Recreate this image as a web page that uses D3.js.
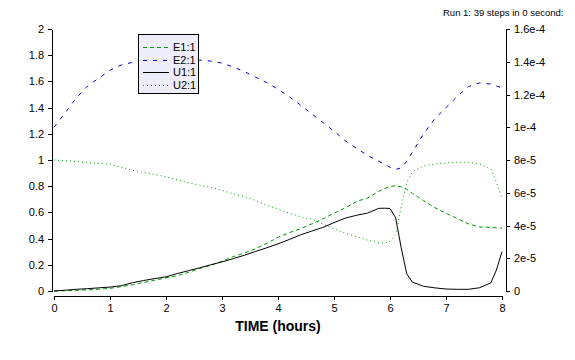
<!DOCTYPE html>
<html><head><meta charset="utf-8">
<script src="https://cdn.jsdelivr.net/npm/d3@7"></script>
<style>
body{margin:0;background:#fff;}
svg{display:block;font-family:"Liberation Sans",Arial,sans-serif;}
</style></head>
<body><svg id="c" width="575" height="360"></svg>
<script>
const title = "Run 1: 39 steps in 0 second:";
const xTitle = "TIME (hours)";
const seriesNames = ["E1:1","E2:1","U1:1","U2:1"];
const xTicks = [0,1,2,3,4,5,6,7,8];
const leftTicks = [0,0.2,0.4,0.6,0.8,1,1.2,1.4,1.6,1.8,2];
const leftTickLabels = ["0","0.2","0.4","0.6","0.8","1","1.2","1.4","1.6","1.8","2"];
const rightTicks = [0,2e-5,4e-5,6e-5,8e-5,1e-4,1.2e-4,1.4e-4,1.6e-4];
const rightTickLabels = ["0","2e-5","4e-5","6e-5","8e-5","1e-4","1.2e-4","1.4e-4","1.6e-4"];

const time = [0,0.2,0.4,0.6,0.8,1.0,1.2,1.4,1.6,1.8,2.0,2.2,2.4,2.6,2.8,3.0,3.2,3.4,3.6,3.8,4.0,4.2,4.4,4.6,4.8,5.0,5.2,5.4,5.6,5.8,5.9,6.0,6.1,6.2,6.3,6.4,6.6,6.8,7.0,7.2,7.4,7.6,7.8,7.9,8.0];
const E1 = [0,0.002,0.005,0.009,0.013,0.02,0.033,0.047,0.065,0.082,0.1,0.116,0.142,0.172,0.196,0.228,0.262,0.29,0.322,0.364,0.41,0.445,0.475,0.512,0.55,0.594,0.634,0.683,0.71,0.76,0.782,0.797,0.804,0.795,0.775,0.745,0.69,0.636,0.594,0.553,0.512,0.489,0.486,0.482,0.479];
const E2 = [1.25,1.36,1.475,1.565,1.625,1.685,1.725,1.745,1.755,1.76,1.762,1.763,1.764,1.763,1.755,1.74,1.71,1.675,1.632,1.59,1.54,1.483,1.42,1.353,1.287,1.22,1.147,1.09,1.035,0.99,0.97,0.945,0.928,0.94,0.99,1.06,1.2,1.315,1.4,1.485,1.56,1.588,1.58,1.565,1.55];
const U1 = [0,0.006,0.013,0.018,0.024,0.03,0.04,0.063,0.08,0.095,0.108,0.133,0.155,0.177,0.2,0.222,0.247,0.273,0.302,0.33,0.36,0.393,0.428,0.457,0.485,0.522,0.556,0.578,0.595,0.631,0.632,0.63,0.56,0.33,0.13,0.068,0.036,0.024,0.015,0.013,0.013,0.025,0.062,0.16,0.3];
const U2 = [1.0,0.995,0.988,0.981,0.975,0.968,0.942,0.922,0.905,0.89,0.872,0.848,0.826,0.808,0.79,0.768,0.742,0.72,0.69,0.655,0.625,0.595,0.567,0.548,0.512,0.475,0.44,0.415,0.388,0.368,0.365,0.38,0.43,0.64,0.83,0.91,0.955,0.968,0.978,0.983,0.983,0.97,0.93,0.83,0.71];

const svg = d3.select("#c");
const x = d3.scaleLinear().domain([0,8]).range([54,502]);
const yL = d3.scaleLinear().domain([0,2]).range([291,29]);
const yR = d3.scaleLinear().domain([0,1.6e-4]).range([291,29]);

const styles = [
  {data:E1, color:"#009900", dash:"4,3"},
  {data:E2, color:"#0000cc", dash:"4,6"},
  {data:U1, color:"#000000", dash:null},
  {data:U2, color:"#00a000", dash:"1,3"}
];

// axes
const axL = svg.append("g").attr("transform","translate(52,0)")
  .call(d3.axisLeft(yL).tickValues(leftTicks).tickFormat((d,i)=>leftTickLabels[i]).tickSize(4).tickSizeOuter(0).tickPadding(4));
const axR = svg.append("g").attr("transform","translate(506,0)")
  .call(d3.axisRight(yR).tickValues(rightTicks).tickFormat((d,i)=>rightTickLabels[i]).tickSize(4).tickSizeOuter(0).tickPadding(4));
const axX = svg.append("g").attr("transform","translate(0,296)")
  .call(d3.axisBottom(x).tickValues(xTicks).tickFormat(d3.format("d")).tickSize(4).tickSizeOuter(0).tickPadding(4));
[axL,axR,axX].forEach(a=>{
  a.selectAll("path,line").attr("stroke","#000").attr("shape-rendering","crispEdges");
  a.selectAll("text").attr("fill","#000").style("font-size","11px").style("font-family","'Liberation Sans',Arial,sans-serif");
});

// lines
const line = d3.line().x((d,i)=>x(time[i])).y(d=>yL(d));
styles.forEach(s=>{
  const p = svg.append("path").datum(s.data).attr("d",line)
    .attr("fill","none").attr("stroke",s.color).attr("stroke-width",1);
  if(s.dash) p.attr("stroke-dasharray",s.dash);
});

// legend
const lg = svg.append("g");
lg.append("rect").attr("x",138.5).attr("y",34.5).attr("width",60).attr("height",59)
  .attr("fill","#eeeefa").attr("stroke","#000").attr("shape-rendering","crispEdges");
seriesNames.forEach((n,i)=>{
  const yy = 47 + i*12.5;
  const l = lg.append("line").attr("x1",143).attr("x2",169).attr("y1",Math.round(yy)+0.5).attr("y2",Math.round(yy)+0.5)
    .attr("stroke",styles[i].color).attr("stroke-width",1);
  if(styles[i].dash) l.attr("stroke-dasharray",styles[i].dash);
  lg.append("text").attr("x",173).attr("y",yy+4).text(n).style("font-size","11px");
});

// titles
svg.append("text").attr("x",443).attr("y",16).text(title).style("font-size","9.5px");
svg.append("text").attr("x",278).attr("y",331).attr("text-anchor","middle").text(xTitle)
  .style("font-size","14px").style("font-weight","bold");
</script></body></html>
